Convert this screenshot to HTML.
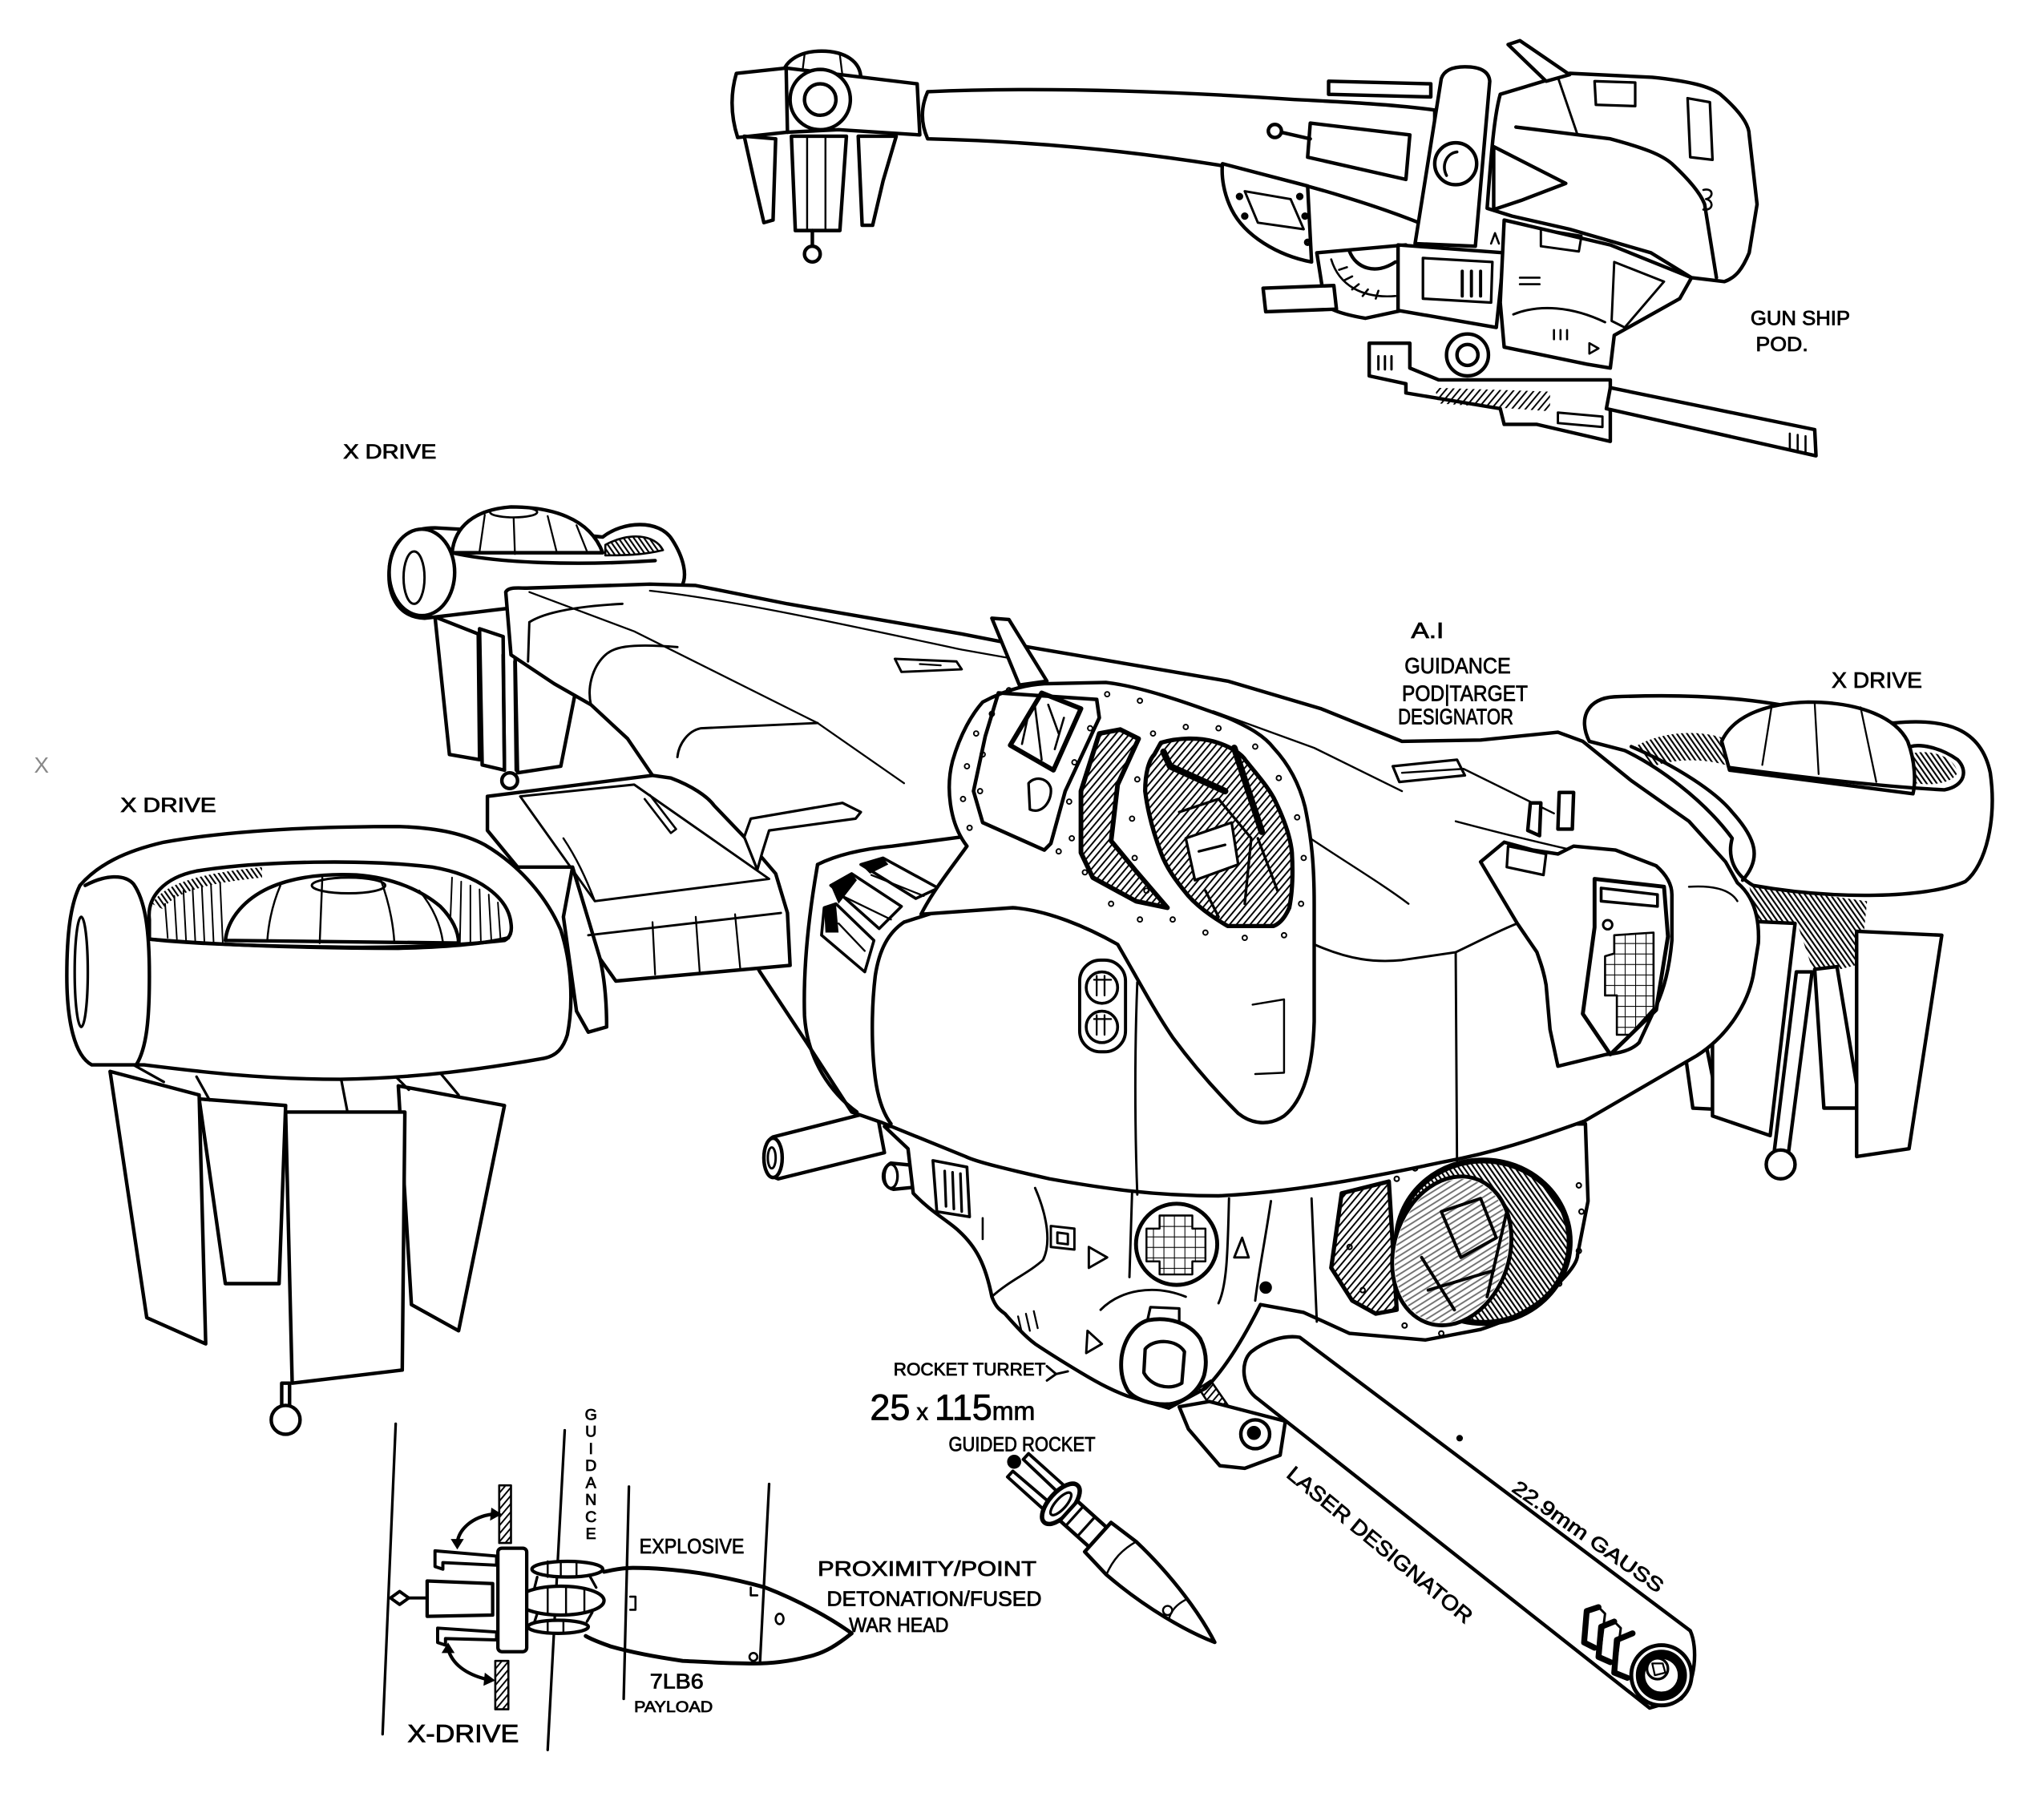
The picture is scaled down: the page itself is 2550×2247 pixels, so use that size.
<!DOCTYPE html>
<html><head><meta charset="utf-8">
<style>
html,body{margin:0;padding:0;background:#fff;}
svg{display:block;}
</style></head><body>
<svg xmlns="http://www.w3.org/2000/svg" width="2550" height="2247" viewBox="0 0 1560 1375" preserveAspectRatio="none">
<defs>
<pattern id="h" width="4" height="4" patternUnits="userSpaceOnUse" patternTransform="rotate(40)"><rect width="1.2" height="4" fill="#000"/></pattern>
<pattern id="hb" width="3.2" height="3.2" patternUnits="userSpaceOnUse" patternTransform="rotate(-35)"><rect width="1.3" height="3.2" fill="#000"/></pattern>
<pattern id="g" width="8" height="8" patternUnits="userSpaceOnUse"><path d="M0,0H8M0,0V8" stroke="#000" stroke-width="1.3" fill="none"/></pattern>
</defs>
<rect width="1560" height="1375" fill="#fff"/>
<g fill="none" stroke="#000" stroke-width="2.7" stroke-linejoin="round" stroke-linecap="round">

<!-- ================= GUNSHIP POD ================= -->
<path fill="#fff" d="M708,70 C800,66 900,70 988,76 C1030,78 1065,80 1095,84 L1095,175 C1060,160 1000,140 930,126 C860,115 790,108 708,106 Q700,88 708,70 Z"/>
<path fill="#fff" d="M597,60 C597,47 610,39 627,39 C645,39 657,47 657,60 Z"/>
<path stroke-width="1.4" d="M614,42 L612,58 M641,42 L643,58"/>
<path fill="#fff" d="M562,56 L600,52 L700,64 L702,103 L640,99 L600,101 L563,105 Q555,80 562,56 Z"/>
<path d="M600,52 L601,101"/>
<circle cx="626" cy="76" r="23" fill="#fff"/>
<circle cx="626" cy="76" r="12"/>
<path fill="#fff" d="M568,104 L592,106 L590,168 L583,170 L576,140 Z"/>
<path fill="#fff" d="M604,104 L646,104 L641,176 L607,176 Z"/>
<path fill="#fff" d="M655,104 L684,104 L674,138 L666,172 L658,172 Z"/>
<path stroke-width="1.5" d="M616,104 L616,176 M630,104 L630,176"/>
<path d="M620,176 L620,188"/>
<circle cx="620" cy="194" r="6" fill="#fff"/>

<path fill="#fff" d="M933,125 L998,142 L1001,200 C975,195 950,180 940,160 C934,148 932,135 933,125 Z"/>
<path stroke-width="1.8" d="M950,146 L985,152 L995,175 L960,170 Z"/>
<circle cx="946" cy="150" r="1.5"/><circle cx="950" cy="165" r="1.5"/><circle cx="992" cy="150" r="1.5"/><circle cx="996" cy="165" r="1.5"/><circle cx="998" cy="185" r="1.5"/>
<path fill="#fff" d="M1005,193 L1073,187 L1070,237 L1042,243 C1025,240 1012,236 1011,231 Z"/>
<path stroke-width="1.6" d="M1016,198 C1022,218 1040,228 1065,226 M1022,206 L1028,204 M1026,214 L1032,211 M1032,221 L1037,217 M1040,226 L1044,221 M1050,228 L1052,222"/>
<path d="M1030,192 C1035,205 1050,210 1065,200"/>
<path fill="#fff" d="M964,220 L1018,218 L1020,236 L966,238 Z"/>
<path fill="#fff" d="M1014,62 L1092,64 L1092,74 L1014,72 Z"/>
<path fill="#fff" d="M1000,94 L1076,103 L1073,137 L998,120 Z"/>
<line x1="978" y1="101" x2="1000" y2="106"/>
<circle cx="973" cy="100" r="5" fill="#fff"/>
<!-- pod body -->
<path fill="#fff" d="M1135,159 C1138,120 1140,90 1145,72 L1198,56 L1261,59 C1290,62 1305,66 1313,72 C1328,85 1335,95 1335,103 L1341,156 L1335,193 C1330,205 1325,212 1316,215 L1291,212 L1260,193 L1198,175 L1154,165 Z"/>
<path d="M1157,97 L1229,106 C1255,113 1268,118 1276,125 C1290,138 1298,148 1301,156 L1310,212"/>
<path stroke-width="1.8" d="M1189,59 L1204,103"/>
<path fill="#fff" d="M1151,34 L1160,31 L1198,57 L1180,62 Z"/>
<path stroke-width="2" d="M1217,62 L1248,63 L1248,81 L1218,80 Z M1288,75 L1305,78 L1307,122 L1290,120 Z"/>
<path stroke-width="1.6" d="M1300,145 C1308,143 1308,151 1302,152 C1308,153 1308,161 1300,160"/>
<!-- nose cone -->
<path fill="#fff" d="M1140,112 L1195,140 L1161,153 L1140,160 Z"/>
<!-- vertical bar -->
<path fill="#fff" d="M1100,60 Q1103,51 1118,51 Q1136,51 1137,62 L1126,188 L1080,186 Z"/>
<circle cx="1111" cy="125" r="16" fill="#fff"/>
<path stroke-width="2.2" d="M1104,134 C1100,126 1104,117 1112,116"/>
<!-- center block -->
<path fill="#fff" d="M1067,187 L1148,193 L1142,250 L1067,237 Z"/>
<path stroke-width="2" d="M1086,197 L1139,200 L1138,231 L1086,228 Z"/>
<path stroke-width="2.4" d="M1116,207 L1116,226 M1123,207 L1123,226 M1130,207 L1130,226"/>
<path stroke-width="1.6" d="M1138,186 L1141,178 L1144,186"/>
<!-- right lower -->
<path fill="#fff" d="M1148,168 L1229,187 L1291,212 L1282,228 L1232,256 L1229,281 L1211,278 L1148,265 L1145,231 Z"/>
<path stroke-width="1.8" d="M1176,175 L1207,180 L1205,192 L1176,188 Z M1232,200 L1270,215 L1240,250 L1230,245 Z M1155,240 C1175,232 1200,234 1225,246"/>
<path stroke-width="1.6" d="M1186,252 L1186,259 M1191,252 L1191,259 M1196,252 L1196,259 M1213,262 L1220,266 L1213,270 Z M1160,212 L1175,212 M1160,217 L1175,217"/>
<!-- gun assembly -->
<path fill="#fff" d="M1045,262 L1076,262 L1076,281 L1098,290 L1229,290 L1229,337 L1173,324 L1148,324 L1145,312 L1073,300 L1073,293 L1045,287 Z"/>
<path fill="url(#h)" stroke="none" d="M1095,296 L1183,299 L1183,314 L1098,308 Z"/>
<path stroke-width="1.8" d="M1189,315 L1223,318 L1223,326 L1189,323 Z M1052,272 L1052,282 M1057,272 L1057,282 M1062,272 L1062,282"/>
<circle cx="1120" cy="271" r="16" fill="#fff"/>
<circle cx="1120" cy="271" r="8"/>
<path fill="#fff" d="M1229,296 L1385,328 L1386,348 L1226,312 Z"/>
<path stroke-width="1.6" d="M1366,331 L1366,343 M1372,332 L1372,344 M1378,333 L1378,345"/>

<!-- ================= RIGHT X DRIVE (behind body) ================= -->
<path fill="url(#hb)" stroke="none" d="M1335,676 L1425,688 L1420,736 L1385,745 L1372,706 L1340,703 Z"/>
<path fill="#fff" d="M1284,789 L1300,787 L1312,847 L1292,846 Z"/>
<path fill="#fff" d="M1307,702 L1370,705 L1351,867 L1307,852 Z"/>
<path fill="#fff" d="M1385,740 L1402,738 L1420,846 L1392,846 Z"/>
<path fill="#fff" d="M1371,742 L1383,742 L1365,880 L1354,880 Z"/>
<circle cx="1359" cy="889" r="11" fill="#fff"/>
<path fill="#fff" d="M1417,711 L1482,714 L1457,877 L1417,883 Z"/>
<path fill="#fff" d="M1213,566 C1204,548 1212,533 1232,532 C1280,530 1320,532 1352,537 L1445,552 C1485,548 1512,556 1519,590 C1524,625 1516,660 1500,673 C1470,686 1400,687 1338,676 C1324,668 1318,655 1322,640 C1300,610 1265,585 1240,573 Z"/>
<path fill="url(#hb)" stroke="none" d="M1248,570 C1268,558 1300,556 1322,566 L1320,585 C1300,578 1275,580 1262,585 Z"/>
<path d="M1245,570 C1280,585 1310,605 1322,620 C1340,640 1345,655 1330,672"/>
<path fill="#fff" d="M1314,566 C1322,548 1345,537 1380,536 C1420,536 1447,548 1456,566 C1462,582 1462,598 1460,606 L1320,588 Z"/>
<path stroke-width="1.4" d="M1352,540 L1345,584 M1385,537 L1388,591 M1420,540 L1432,597"/>
<path fill="url(#hb)" stroke="none" d="M1460,575 C1475,572 1492,578 1494,590 C1490,598 1475,600 1462,598 Z"/>
<path d="M1320,586 C1380,594 1440,601 1484,603 C1500,600 1502,588 1494,580 C1480,570 1465,568 1458,570"/>

<!-- ================= BACK-LEFT X DRIVE ================= -->
<path fill="#fff" d="M332,471 L365,484 L366,580 L343,576 Z"/>
<path fill="#fff" d="M366,480 L384,486 L385,588 L368,584 Z"/>
<path fill="#fff" d="M393,494 L441,519 L428,585 L395,590 Z"/>
<path fill="#fff" d="M324,472 C302,471 296,452 297,436 C298,413 311,403 332,403 L350,404 C400,406 440,408 460,410 C475,398 503,396 513,412 C522,426 525,440 520,448 C470,455 400,463 324,472 Z"/>
<ellipse cx="322" cy="437" rx="25" ry="33" fill="#fff"/>
<ellipse cx="316" cy="441" rx="8" ry="20" stroke-width="1.8"/>
<path fill="url(#hb)" stroke-width="1.6" d="M462,416 C480,406 500,408 506,420 C490,424 475,424 462,424 Z"/>
<path fill="#fff" d="M345,422 C347,402 362,389 390,387 C420,387 450,395 460,422 Z"/>
<ellipse cx="392" cy="391" rx="18" ry="4" stroke-width="1.6"/>
<path stroke-width="1.4" d="M370,393 L366,421 M392,395 L393,423 M418,394 L425,422 M440,401 L448,421"/>
<path d="M345,422 C380,430 440,432 500,428"/>

<!-- ================= UNDERSIDE ================= -->
<path fill="#fff" d="M669,848 L590,868 C582,872 581,896 594,900 L675,880 Z"/>
<ellipse cx="590" cy="884" rx="7" ry="15" fill="#fff"/>
<ellipse cx="589" cy="884" rx="3" ry="8" stroke-width="1.8"/>
<path fill="#fff" d="M700,890 L680,888 C672,892 672,906 682,908 L702,906 Z"/>
<ellipse cx="680" cy="898" rx="5" ry="9" fill="#fff" stroke-width="2"/>
<path fill="#fff" d="M675,860 L693,877 L697,911 C710,925 725,933 732,940 C745,952 752,965 757,990 C760,998 763,1000 767,1003 C775,1012 782,1020 790,1026 C805,1036 815,1042 825,1048 C840,1057 850,1062 861,1066 L892,1075 L920,1060 C935,1045 950,1020 962,996 L995,1002 L1030,1018 L1088,1023 L1130,1015 C1160,1005 1175,995 1180,989 C1195,975 1204,965 1204,958 L1212,917 L1210,858 Z"/>
<path stroke-width="2.2" d="M712,886 L738,891 L740,929 L715,925 Z"/>
<path stroke-width="2" d="M721,894 L722,921 M727,895 L728,923 M733,896 L734,925"/>
<path stroke-width="1.6" d="M750,930 L750,946"/>
<path stroke-width="1.8" d="M790,907 C800,930 802,950 796,962 C785,972 770,978 757,990"/>
<circle cx="898" cy="950" r="31" fill="#fff" stroke-width="3"/>
<path fill="url(#g)" stroke-width="1.5" d="M885,928 L910,928 L910,938 L920,938 L920,963 L910,963 L910,973 L885,973 L885,963 L875,963 L875,938 L885,938 Z"/>
<path stroke-width="1.8" d="M831,952 L845,960 L831,968 Z M948,945 L942,960 L953,960 Z M830,1016 L841,1026 L829,1033 Z"/>
<path stroke-width="1.8" d="M802,936 L820,938 L820,954 L802,952 Z M807,941 L815,942 L815,950 L807,949 Z"/>
<path stroke-width="1.8" d="M864,911 L862,975 M938,915 C937,950 937,980 930,995 M970,917 C965,950 960,975 958,993 M1001,915 L1005,1009"/>
<path stroke-width="1.4" d="M777,1005 L780,1018 M783,1003 L786,1016 M789,1001 L792,1014"/>
<path stroke-width="1.8" d="M840,1000 C855,985 880,980 905,990"/>
<circle cx="966" cy="983" r="4" fill="#000" stroke-width="1.5"/>
<path fill="url(#h)" stroke-width="3.2" d="M1024,911 L1060,902 L1066,1000 L1050,1003 L1032,993 L1016,968 Z"/>
<ellipse cx="1132" cy="948" rx="66" ry="62" fill="url(#hb)" stroke-width="4.5"/>
<ellipse cx="1108" cy="955" rx="44" ry="58" transform="rotate(18 1108 955)" fill="#fff" stroke-width="3"/>
<ellipse cx="1108" cy="955" rx="42" ry="56" transform="rotate(18 1108 955)" fill="url(#h)" stroke="none" opacity="0.55"/>
<path stroke-width="2.4" d="M1100,925 L1130,915 L1142,945 L1115,960 Z M1090,985 L1140,970 M1150,925 L1135,990 M1085,960 L1110,1000"/>
<g stroke-width="1.3"><circle cx="1066" cy="900" r="1.8"/><circle cx="1080" cy="892" r="1.8"/><circle cx="1205" cy="905" r="1.8"/><circle cx="1207" cy="925" r="1.8"/><circle cx="1205" cy="955" r="1.8"/><circle cx="1072" cy="1012" r="1.8"/><circle cx="1100" cy="1018" r="1.8"/><circle cx="1040" cy="985" r="1.8"/><circle cx="1030" cy="952" r="1.8"/><circle cx="1190" cy="980" r="1.8"/></g>
<path fill="#fff" stroke-width="3" d="M876,1008 C892,1005 908,1010 916,1022 C921,1032 921,1042 919,1050 C915,1062 905,1070 893,1072 C878,1073 866,1068 861,1062 C856,1054 855,1045 856,1036 C858,1022 866,1011 876,1008 Z"/>
<path stroke-width="2.6" d="M874,1030 C880,1022 898,1022 904,1032 L902,1056 C892,1062 878,1058 873,1048 Z"/>
<path stroke-width="2" d="M876,1007 L878,998 L900,999 L900,1010"/>
<path fill="url(#h)" stroke-width="1.6" d="M915,1060 L924,1054 L942,1080 L932,1086 Z"/>
<path fill="#fff" d="M907,1091 L900,1074 L923,1070 L981,1085 L977,1111 L950,1121 L931,1119 Z"/>
<circle cx="958" cy="1095" r="11" fill="#fff"/>
<circle cx="957" cy="1094" r="4" fill="#000"/>

<!-- barrel -->
<path fill="#fff" d="M992,1021 L1290,1245 C1296,1258 1294,1285 1283,1297 L1259,1304 L960,1068 C948,1060 946,1040 955,1032 C965,1024 980,1019 992,1021 Z"/>
<circle cx="1268" cy="1279" r="23" fill="#fff" stroke-width="3"/>
<circle cx="1268" cy="1279" r="16" stroke-width="7"/>
<circle cx="1265" cy="1274" r="8" fill="#fff" stroke-width="2"/>
<path stroke-width="1.4" d="M1261,1270 L1269,1270 L1271,1277 L1263,1279 Z"/>
<path stroke-width="4.5" d="M1220,1227 L1211,1230 L1209,1254 L1217,1258 M1232,1238 L1222,1242 L1220,1265 L1229,1269 M1246,1247 L1234,1252 L1232,1277 L1242,1281"/>
<path stroke-width="1.8" d="M1220,1227 L1225,1232 L1222,1256 L1217,1258 M1232,1238 L1237,1243 L1234,1266 L1229,1269"/>

<!-- ================= MAIN BODY ================= -->
<path fill="#fff" d="M386,452 C388,448 395,449 402,449 L496,446 L531,447 L601,461 L734,484 L785,494 L867,508 L937,520 L1008,541 L1070,566 L1130,565 L1189,559 L1208,566 L1245,596 L1289,627 L1317,658 L1326,674 C1338,684 1343,700 1342,720 L1338,745 C1334,765 1320,790 1295,806 L1209,856 C1170,870 1140,880 1102,887 C1050,898 990,910 930,913 C880,913 840,907 801,900 C770,893 745,887 737,883 L673,857 L650,849 L615,795 L580,742 L498,592 L479,564 L451,538 L423,522 L390,500 Z"/>
<path stroke-width="1.4" d="M404,452 L484,482 L624,552 L690,598"/>
<path stroke-width="1.4" d="M496,451 C560,458 650,478 734,496 L785,505"/>
<path stroke-width="1.8" d="M451,538 C448,525 452,510 461,501 C468,494 479,491 517,494"/>
<path stroke-width="1.8" d="M517,578 C518,568 525,558 535,556 L624,552"/>
<path stroke-width="1.8" d="M404,475 L403,505 M404,475 C415,468 437,463 475,461"/>
<path stroke-width="1.8" d="M683,503 L730,505 L734,511 L688,513 Z"/>
<path stroke-width="1.4" d="M702,507 L718,508"/>
<path stroke-width="1.5" d="M926,543 L1003,571 L1070,604 M1070,590 L1117,587 L1186,621 M1111,627 C1160,640 1210,652 1257,661"/>
<path stroke-width="2" d="M1063,585 L1112,580 L1118,592 L1068,597 Z"/>
<path d="M384,500 L385,588 M393,505 L394,588"/>
<circle cx="389" cy="596" r="6" fill="#fff"/>
<path fill="#fff" d="M757,472 L770,473 L799,520 L778,523 Z"/>

<!-- front face -->
<path d="M624,660 C640,652 660,648 681,646 L734,639"/>
<path d="M624,660 C617,700 613,740 614,775 C616,810 635,835 654,849"/>
<path d="M690,704 C678,712 671,725 668,745 C665,770 665,800 668,823 C670,838 674,850 680,858"/>
<path d="M690,704 L734,690 L773,693"/>
<path fill="#fff" stroke-width="2.2" d="M634,676 L650,667 L688,692 L671,709 Z"/>
<path fill="#000" stroke="none" d="M634,676 L650,667 L654,672 L640,690 Z"/>
<path fill="#fff" stroke-width="2.2" d="M657,660 L674,655 L716,678 L699,686 Z"/>
<path fill="#000" stroke="none" d="M657,660 L674,655 L678,660 L664,667 Z"/>
<path fill="#fff" stroke-width="2.2" d="M629,693 L638,690 L667,718 L660,742 L627,714 Z"/>
<path fill="#000" stroke="none" d="M629,693 L638,690 L640,712 L630,712 Z"/>
<path stroke-width="1.4" d="M645,685 L680,702 M665,668 L705,684 M640,705 L660,726"/>
<rect x="824" y="733" width="35" height="70" rx="16" fill="#fff" stroke-width="2.4"/>
<circle cx="841" cy="754" r="12" stroke-width="2.2"/>
<circle cx="841" cy="784" r="12" stroke-width="2.2"/>
<path stroke-width="1.4" d="M835,748 L848,748 M837,745 L837,760 M843,745 L843,760 M835,778 L848,778 M837,775 L837,790 M843,775 L843,790"/>
<path stroke-width="1.8" d="M868,750 C866,800 866,860 868,912"/>
<path stroke-width="1.8" d="M1003,721 C1030,733 1050,735 1070,733 L1111,727 C1130,718 1145,710 1158,705"/>
<path stroke-width="1.8" d="M1111,727 L1112,886"/>
<path stroke-width="1.5" d="M1000,640 C1030,660 1055,675 1075,690"/>

<!-- canopy -->
<path fill="#fff" d="M703,698 C712,680 728,660 738,646 C724,628 722,600 727,581 C733,560 742,545 750,536 C765,528 780,523 797,522 L844,521 C870,524 905,536 937,548 C955,556 965,562 972,571 C985,585 992,600 996,616 C1001,640 1003,660 1003,690 L1003,780 C1002,815 995,840 980,852 C968,860 955,858 945,850 C930,835 912,815 895,792 C880,770 867,745 853,721 C830,708 800,695 773,693 Z"/>
<path stroke-width="1.5" d="M956,767 L980,763 L980,819 L958,820"/>
<path stroke-width="2.8" d="M762,529 L837,534 L839,548 L813,604 L802,644 L797,649 L750,628 L743,604 L752,562 Z"/>
<path stroke-width="3.6" d="M771,569 L795,529 L825,541 L804,588 Z"/>
<path stroke-width="1.6" d="M790,540 L795,580 M800,538 L808,560 M785,545 L780,568 M812,548 L805,572"/>
<path stroke-width="2" d="M785,598 C790,592 800,594 802,602 C803,612 795,622 786,618 Z"/>
<path fill="url(#h)" stroke-width="3.6" d="M839,560 L855,557 L869,564 L853,599 L848,642 L867,665 L891,693 L867,688 L834,670 L825,651 L825,604 Z"/>
<path fill="url(#h)" stroke-width="3.2" d="M886,567 C900,563 915,563 926,566 C940,570 948,576 951,581 C960,592 967,600 972,609 C980,625 985,640 986,651 C987,668 986,683 984,693 C981,700 977,705 972,707 L937,707 C925,700 915,693 907,684 C897,672 890,662 886,651 C880,635 876,620 874,604 C874,590 877,580 881,576 Z"/>
<path stroke-width="5" d="M888,574 L893,585 L935,604 M942,571 L963,635"/>
<path fill="#fff" stroke-width="2" d="M905,640 L940,628 L945,660 L912,672 Z"/>
<path stroke-width="2" d="M915,650 L935,645 M900,620 L930,610 L955,640 L950,690 M920,680 L930,700 M960,640 L975,680"/>
<g stroke-width="1.2">
<circle cx="745" cy="560" r="1.8"/><circle cx="738" cy="585" r="1.8"/><circle cx="735" cy="610" r="1.8"/><circle cx="740" cy="632" r="1.8"/><circle cx="770" cy="527" r="1.8"/>
<circle cx="880" cy="560" r="1.8"/><circle cx="905" cy="555" r="1.8"/><circle cx="930" cy="556" r="1.8"/><circle cx="958" cy="570" r="1.8"/><circle cx="976" cy="594" r="1.8"/><circle cx="990" cy="624" r="1.8"/><circle cx="995" cy="655" r="1.8"/><circle cx="993" cy="690" r="1.8"/><circle cx="980" cy="714" r="1.8"/><circle cx="950" cy="716" r="1.8"/><circle cx="920" cy="712" r="1.8"/><circle cx="895" cy="702" r="1.8"/><circle cx="875" cy="680" r="1.8"/><circle cx="866" cy="655" r="1.8"/><circle cx="864" cy="625" r="1.8"/><circle cx="868" cy="595" r="1.8"/>
<circle cx="832" cy="556" r="1.8"/><circle cx="820" cy="582" r="1.8"/><circle cx="816" cy="612" r="1.8"/><circle cx="818" cy="640" r="1.8"/><circle cx="828" cy="666" r="1.8"/><circle cx="848" cy="690" r="1.8"/><circle cx="870" cy="702" r="1.8"/>
<circle cx="757" cy="545" r="1.8"/><circle cx="750" cy="576" r="1.8"/><circle cx="748" cy="604" r="1.8"/><circle cx="808" cy="650" r="1.8"/><circle cx="845" cy="530" r="1.8"/><circle cx="870" cy="535" r="1.8"/>
</g>

<!-- right guidance pod -->
<path fill="#fff" d="M1130,658 L1148,643 L1170,649 L1189,652 L1201,646 L1233,649 L1264,661 C1272,668 1276,675 1276,683 L1276,718 C1274,740 1270,755 1264,768 L1251,796 C1245,802 1236,804 1226,805 L1189,814 L1183,786 L1180,752 C1178,740 1175,733 1173,727 L1158,705 Z"/>
<path stroke-width="2" d="M1151,646 L1180,652 L1178,668 L1150,662 Z"/>
<path fill="#fff" d="M1166,634 L1168,613 L1176,613 L1175,638 Z"/>
<path fill="#fff" d="M1189,633 L1190,605 L1201,605 L1200,633 Z"/>
<path fill="#fff" stroke-width="3" d="M1217,671 L1270,677 L1273,715 L1264,771 L1229,805 L1208,774 L1217,708 Z"/>
<path stroke-width="2.2" d="M1222,678 L1265,683 L1265,692 L1222,688 Z"/>
<path fill="url(#g)" stroke-width="1.6" d="M1232,714 L1262,712 L1262,770 L1244,790 L1234,790 L1234,760 L1225,760 L1225,730 L1232,728 Z"/>
<circle cx="1227" cy="706" r="3.5" stroke-width="1.8"/>
<path stroke-width="1.5" d="M1289,677 C1305,676 1320,678 1326,688"/>

<!-- ================= WING ================= -->
<path fill="#fff" d="M437,662 C445,690 455,715 458,732 C462,750 463,770 463,784 L449,788 L440,772 L430,700 Z"/>
<path fill="#fff" d="M372,608 L498,592 L512,594 C528,600 540,608 545,615 L568,639 L592,667 L601,697 L603,737 L470,749 L458,732 L437,662 L395,662 L372,634 Z"/>
<path stroke-width="1.8" d="M397,608 L484,599 L587,671 L454,688 Z"/>
<path stroke-width="1.8" d="M449,714 L596,697"/>
<path stroke-width="1.4" d="M498,704 L500,744 M531,700 L534,742 M561,698 L565,740"/>
<path stroke-width="1.6" d="M492,610 L512,636 L516,633 L496,607"/>
<path stroke-width="1.5" d="M430,640 C440,655 447,670 454,688"/>
<path fill="#fff" stroke-width="2" d="M568,639 L573,625 L643,613 L657,620 L653,625 L587,634 L582,650 L578,664 Z"/>

<!-- ================= BIG LEFT X DRIVE ================= -->
<path fill="#fff" d="M152,839 L218,844 L213,980 L172,980 Z"/>
<path fill="#fff" d="M304,829 L385,844 L350,1016 L314,996 Z"/>
<path fill="#fff" d="M84,818 L152,836 L157,1026 L112,1006 Z"/>
<path fill="#fff" d="M218,849 L309,849 L307,1046 L223,1056 Z"/>
<path fill="#fff" d="M215,1056 L221,1056 L221,1074 L215,1074 Z"/>
<circle cx="218" cy="1084" r="11" fill="#fff"/>
<path stroke-width="2" d="M100,812 L125,826 M150,822 L160,840 M300,820 L312,832 M335,818 L350,836 M260,822 L265,848"/>
<path fill="#fff" d="M61,676 C75,660 95,650 125,643 C170,635 230,631 304,631 C335,632 355,637 370,645 C392,658 415,680 428,710 C436,735 438,765 433,790 C430,800 425,806 415,808 C370,816 320,823 260,824 C200,824 150,818 110,813 L70,813 C57,806 51,780 51,745 C51,712 54,690 61,676 Z"/>
<path d="M65,676 C80,668 95,667 102,675 C111,688 114,710 114,745 C114,778 112,800 104,813"/>
<ellipse cx="62" cy="742" rx="5" ry="42" stroke-width="2"/>
<path fill="#fff" d="M114,702 C112,685 125,670 150,665 C200,657 280,656 330,662 C365,668 388,685 390,705 C391,712 389,716 385,718 C350,722 300,724 250,723 C180,722 140,720 114,717 Z"/>
<path fill="url(#hb)" stroke="none" d="M116,690 C125,675 150,667 200,662 L200,670 C160,674 135,680 124,694 Z"/>
<path stroke-width="1.2" d="M126,690 L128,716 M133,684 L135,717 M140,680 L142,718 M147,678 L149,718 M154,676 L156,719 M161,675 L163,719 M168,674 L170,719 M345,670 L343,721 M352,673 L351,720 M359,676 L359,720 M366,679 L367,719 M373,683 L375,718 M380,689 L382,717"/>
<path fill="#fff" d="M172,718 C174,700 188,686 205,678 C225,669 250,667 272,668 C300,670 322,680 336,692 C345,701 350,711 350,720 Z"/>
<ellipse cx="266" cy="676" rx="28" ry="6" stroke-width="1.8"/>
<path stroke-width="1.5" d="M214,676 C208,690 205,705 204,718 M246,670 L244,720 M290,670 C296,686 300,703 301,720 M320,680 C330,692 336,705 338,719"/>
<path d="M114,717 C160,721 230,724 304,724 C345,723 372,720 388,716"/>

<!-- ================= SMALL ROCKET ================= -->
<g transform="translate(774,1116) rotate(42)">
<circle cx="0" cy="0" r="4" fill="#000"/>
<path fill="#fff" stroke-width="2.4" d="M4,-12 L42,-12 L42,-5 L4,-6 Z M4,6 L42,5 L42,12 L4,12 Z"/>
<ellipse cx="48" cy="0" rx="9" ry="19" fill="#fff" stroke-width="3.4"/>
<ellipse cx="48" cy="0" rx="4" ry="11" stroke-width="2"/>
<path fill="#fff" stroke-width="2.8" d="M56,-10 L86,-10 L86,10 L56,10 Z"/>
<path stroke-width="2" d="M62,-10 L62,10 M74,-10 L74,10"/>
<path fill="#fff" stroke-width="2.8" d="M86,-15 L110,-17 C150,-16 185,-8 206,0 C185,8 150,16 110,17 L86,15 Z"/>
<path stroke-width="1.5" d="M110,-17 C106,-5 106,5 110,17 M168,-10 C165,-2 165,4 168,10"/>
<circle cx="163" cy="6" r="3.5" stroke-width="1.5"/>
</g>

<!-- ================= MISSILE DIAGRAM ================= -->
<path stroke-width="2" d="M302,1087 L292,1324 M431,1092 L418,1336 M480,1135 L476,1297 M587,1133 L580,1270"/>
<path stroke-width="3" d="M461,1200 C470,1198 476,1197 483,1197 C500,1197 520,1199 534,1201 C552,1204 570,1208 584,1212 C610,1222 635,1236 650,1247 C640,1255 630,1262 616,1265 C600,1269 585,1270 575,1270 C555,1270 540,1269 521,1268 C500,1265 480,1261 466,1257 C458,1254 452,1252 447,1249"/>
<ellipse cx="433" cy="1198" rx="27" ry="6" fill="#fff" stroke-width="2.6"/>
<ellipse cx="428" cy="1222" rx="33" ry="11" fill="#fff" stroke-width="2.6"/>
<ellipse cx="426" cy="1242" rx="23" ry="5" fill="#fff" stroke-width="2.6"/>
<path stroke-width="1.5" d="M418,1192 L418,1204 M428,1192 L428,1204 M440,1192 L440,1204 M418,1212 L418,1232 M432,1211 L432,1233 M446,1213 L446,1231 M418,1237 L418,1247 M430,1237 L430,1247"/>
<path stroke-width="2" d="M410,1204 L408,1212 M450,1203 L455,1212 M410,1232 L408,1238 M452,1231 L448,1238"/>
<path fill="url(#h)" stroke-width="1.6" d="M381,1134 L390,1134 L390,1178 L381,1178 Z"/>
<path fill="url(#h)" stroke-width="1.6" d="M378,1268 L388,1268 L388,1305 L378,1305 Z"/>
<rect x="380" y="1182" width="22" height="79" rx="3" fill="#fff" stroke-width="2.6"/>
<path fill="#fff" stroke-width="2.4" d="M332,1184 L379,1188 L379,1195 L338,1193 L338,1198 L332,1196 Z"/>
<path fill="#fff" stroke-width="2.4" d="M334,1243 L379,1246 L379,1252 L340,1251 L340,1256 L334,1254 Z"/>
<path fill="#fff" stroke-width="2.6" d="M326,1207 L376,1209 L376,1233 L326,1234 Z"/>
<path stroke-width="2.4" d="M311,1220 L326,1220"/>
<path fill="#fff" stroke-width="2.4" d="M298,1220 L305,1215 L312,1220 L305,1225 Z"/>
<path stroke-width="2.6" d="M349,1178 C350,1168 360,1158 376,1156"/>
<path fill="#000" stroke="none" d="M375,1151 L383,1156 L374,1161 Z M344,1175 L349,1183 L354,1175 Z"/>
<path stroke-width="2.6" d="M342,1259 C345,1270 355,1278 371,1282"/>
<path fill="#000" stroke="none" d="M370,1277 L378,1283 L369,1287 Z M337,1262 L342,1254 L347,1262 Z"/>
<path stroke-width="1.6" d="M573,1212 L573,1218 L578,1218 M481,1219 L485,1219 L485,1229 L481,1229"/>
<circle cx="575" cy="1265" r="3" stroke-width="1.6"/>
<ellipse cx="595" cy="1236" rx="3" ry="4" stroke-width="1.6"/>

<path stroke-width="1.8" d="M799,1043 L806,1049 L799,1054 M806,1049 L815,1047"/>
<circle cx="1114" cy="1098" r="2.5" fill="#000" stroke="none"/>
</g>

<!-- ================= TEXT ================= -->
<g fill="#000" stroke="#000" stroke-width="0.5" font-family="'Liberation Sans Narrow','Liberation Sans',sans-serif">
<text x="262" y="350" font-size="15" textLength="71" lengthAdjust="spacingAndGlyphs">X DRIVE</text>
<text x="26" y="590" font-size="17" fill="#888" stroke="none">X</text>
<text x="92" y="620" font-size="15" textLength="73" lengthAdjust="spacingAndGlyphs">X DRIVE</text>
<text x="1077" y="487" font-size="17" textLength="25" lengthAdjust="spacingAndGlyphs">A.I</text>
<text x="1072" y="514" font-size="17" textLength="81" lengthAdjust="spacingAndGlyphs">GUIDANCE</text>
<text x="1070" y="535" font-size="17" textLength="96" lengthAdjust="spacingAndGlyphs">POD|TARGET</text>
<text x="1067" y="553" font-size="17" textLength="88" lengthAdjust="spacingAndGlyphs">DESIGNATOR</text>
<text x="1398" y="525" font-size="17" textLength="69" lengthAdjust="spacingAndGlyphs">X DRIVE</text>
<text x="1336" y="248" font-size="15" textLength="76" lengthAdjust="spacingAndGlyphs">GUN SHIP</text>
<text x="1340" y="268" font-size="15" textLength="40" lengthAdjust="spacingAndGlyphs">POD.</text>
<text x="682" y="1050" font-size="13.5" textLength="116" lengthAdjust="spacingAndGlyphs">ROCKET TURRET</text>
<text x="664" y="1084" font-size="28" textLength="126" lengthAdjust="spacingAndGlyphs">25<tspan font-size="18"> x </tspan>115<tspan font-size="20">mm</tspan></text>
<text x="724" y="1108" font-size="15" textLength="112" lengthAdjust="spacingAndGlyphs">GUIDED ROCKET</text>
<text transform="translate(981,1127) rotate(39.5)" font-size="16" textLength="178" lengthAdjust="spacingAndGlyphs">LASER DESIGNATOR</text>
<text transform="translate(1153,1138) rotate(35)" font-size="15" textLength="137" lengthAdjust="spacingAndGlyphs">22.9mm GAUSS</text>
<g font-size="12" text-anchor="middle">
<text x="451" y="1084">G</text><text x="451" y="1097">U</text><text x="451" y="1110">I</text><text x="451" y="1123">D</text><text x="451" y="1136">A</text><text x="451" y="1149">N</text><text x="451" y="1162">C</text><text x="451" y="1175">E</text>
</g>
<text x="488" y="1186" font-size="16" textLength="80" lengthAdjust="spacingAndGlyphs">EXPLOSIVE</text>
<text x="624" y="1203" font-size="16" textLength="167" lengthAdjust="spacingAndGlyphs">PROXIMITY/POINT</text>
<text x="631" y="1226" font-size="16" textLength="164" lengthAdjust="spacingAndGlyphs">DETONATION/FUSED</text>
<text x="648" y="1246" font-size="15" textLength="76" lengthAdjust="spacingAndGlyphs">WAR HEAD</text>
<text x="496" y="1289" font-size="16" textLength="41" lengthAdjust="spacingAndGlyphs">7LB6</text>
<text x="484" y="1307" font-size="12" textLength="60" lengthAdjust="spacingAndGlyphs">PAYLOAD</text>
<text x="311" y="1330" font-size="19" textLength="85" lengthAdjust="spacingAndGlyphs">X-DRIVE</text>
</g>
</svg>
</body></html>
